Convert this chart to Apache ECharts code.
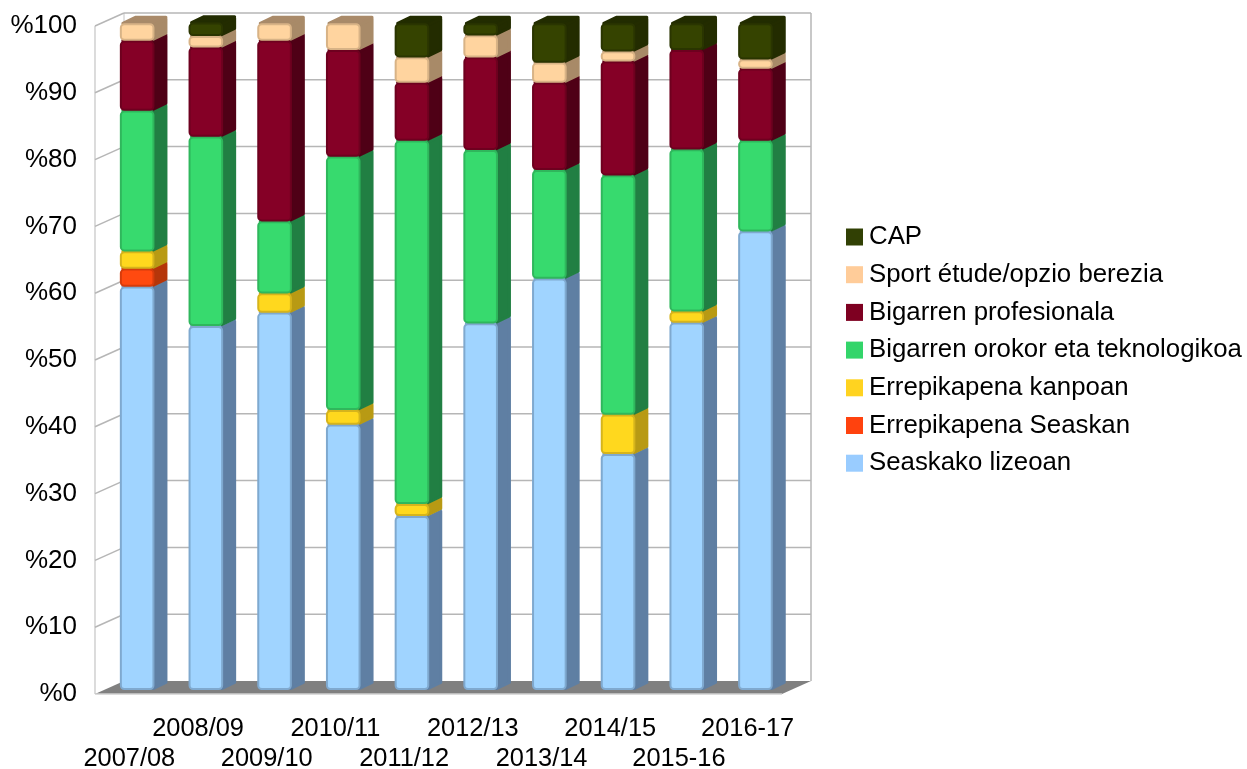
<!DOCTYPE html>
<html><head><meta charset="utf-8">
<style>html,body{margin:0;padding:0;background:#fff}#c{width:1247px;height:769px}</style>
<script src="https://cdn.jsdelivr.net/npm/echarts@6/dist/echarts.min.js"></script>
</head><body><div id="c"></div>
<script>
const categories = ['2007/08','2008/09','2009/10','2010/11','2011/12','2012/13','2013/14','2014/15','2015-16','2016-17'];
const yTicks = [0,10,20,30,40,50,60,70,80,90,100];
const seaskakoLizeoan = [60.5,54.6,56.6,39.8,26.1,55.0,61.7,35.4,55.1,68.8];
const errepikapenaSeaskan = [2.7,0,0,0,0,0,0,0,0,0];
const errepikapenaKanpoan = [2.6,0,2.9,2.2,1.8,0,0,5.9,1.7,0];
const bigarrenOrokor = [21.1,28.4,10.8,38.0,54.5,26.0,16.3,35.9,24.3,13.6];
const bigarrenProfesionala = [10.5,13.4,27.1,16.0,8.7,13.9,13.1,17.1,14.9,10.8];
const sportEtude = [2.6,1.7,2.6,4.0,3.8,3.3,3.0,1.5,0,1.4];
const cap = [0,2.0,0,0,5.1,1.8,5.9,4.2,4.0,5.4];

const names = ['Seaskako lizeoan','Errepikapena Seaskan','Errepikapena kanpoan','Bigarren orokor eta teknologikoa','Bigarren profesionala','Sport étude/opzio berezia','CAP'];
const values = [seaskakoLizeoan,errepikapenaSeaskan,errepikapenaKanpoan,bigarrenOrokor,bigarrenProfesionala,sportEtude,cap];
const legendColors = ['#99ccff','#ff420e','#ffd320','#33d56a','#7e0021','#ffcc99','#314004'];
const frontColors = ['#a0d4ff','#ff4a10','#ffd81e','#37da6e','#850026','#ffd49f','#354300'];
const edgeColors = ['#7fa9cf','#d63c0c','#d6b41c','#2fb75c','#6e001f','#d8b386','#2a3500'];
const sideColors = ['#5f7fa3','#b5360a','#b89a14','#217f43','#4f0016','#a88a68','#232c00'];
const topColors = ['#7ea6cc','#cc3d0b','#c9a816','#2aa555','#600019','#a98a69','#222c00'];

const FONT = '"Liberation Sans"';
const DEPTH_X = 29, DEPTH_Y = 13;
const BAR_SHIFT_X = 7.8, BAR_SHIFT_Y = 4, BAR_W = 32.6, SIDE_X = 12.5, SIDE_Y = 6, BAR_YS = 0.998;

function wallItem(params, api) {
  const cs = params.coordSys;
  const y = api.coord([0, api.value(1)])[1];
  const L = cs.x, R = cs.x + cs.width, T = cs.y, B = cs.y + cs.height;
  const kids = [];
  const grid = '#b6b6b6';
  if (params.dataIndex === 0) {
    kids.push({type:'polygon',shape:{points:[[L,B],[L+DEPTH_X,B-DEPTH_Y],[R+DEPTH_X,B-DEPTH_Y],[R,B]]},style:{fill:'#808080'}});
    kids.push({type:'line',shape:{x1:L,y1:B,x2:R,y2:B},style:{stroke:'#d0d0d0',lineWidth:1.5}});
    kids.push({type:'line',shape:{x1:L,y1:T,x2:L,y2:B},style:{stroke:'#c4c4c4',lineWidth:1.2}});
    kids.push({type:'line',shape:{x1:L+DEPTH_X,y1:T-DEPTH_Y,x2:L+DEPTH_X,y2:B-DEPTH_Y},style:{stroke:'#c4c4c4',lineWidth:1}});
    kids.push({type:'line',shape:{x1:R+DEPTH_X,y1:T-DEPTH_Y,x2:R+DEPTH_X,y2:B-DEPTH_Y},style:{stroke:grid,lineWidth:1.5}});
  } else {
    kids.push({type:'line',shape:{x1:L,y1:y,x2:L+DEPTH_X,y2:y-DEPTH_Y},style:{stroke:grid,lineWidth:1.5}});
    kids.push({type:'line',shape:{x1:L+DEPTH_X,y1:y-DEPTH_Y,x2:R+DEPTH_X,y2:y-DEPTH_Y},style:{stroke:grid,lineWidth:1.5}});
  }
  return {type:'group',children:kids};
}

function barItem(k) {
  return function (params, api) {
    const base = api.coord([api.value(0), 0]);
    const a = api.coord([api.value(0), api.value(1)]);
    const b = api.coord([api.value(0), api.value(2)]);
    const y0 = base[1] - BAR_SHIFT_Y;
    const yBot = y0 + (a[1] - base[1]) * BAR_YS;
    const yTop = y0 + (b[1] - base[1]) * BAR_YS;
    const x1 = base[0] + BAR_SHIFT_X - BAR_W / 2, x2 = x1 + BAR_W;
    const side = [[x2,yTop+1.5],[x2+SIDE_X,yTop-SIDE_Y+1.5],[x2+SIDE_X,yBot-SIDE_Y-1.5],[x2,yBot-1.5]];
    const top = [[x1+2,yTop],[x1+SIDE_X+2,yTop-SIDE_Y],[x2+SIDE_X,yTop-SIDE_Y],[x2,yTop]];
    const gap = 0.9;
    return {type:'group',children:[
      {type:'polygon',shape:{points:top},style:{fill:topColors[k],stroke:topColors[k],lineWidth:3,lineJoin:'round'}},
      {type:'polygon',shape:{points:side},style:{fill:sideColors[k],stroke:sideColors[k],lineWidth:3,lineJoin:'round'}},
      {type:'rect',shape:{x:x1,y:yTop+gap,width:BAR_W,height:Math.max(1,yBot-yTop-gap*2),r:3.5},style:{fill:frontColors[k],stroke:edgeColors[k],lineWidth:2}}
    ]};
  };
}

const series = [{
  type:'custom',name:'walls',silent:true,clip:false,z:1,
  encode:{x:0,y:1},
  data:yTicks.map(t=>[0,t]),
  renderItem:wallItem
}];
names.forEach((name,k)=>{
  const rows=[];
  values[k].forEach((v,i)=>{
    const start=values.slice(0,k).reduce((s,arr)=>s+arr[i],0);
    if(v>0) rows.push([i,start,start+v]);
  });
  series.push({type:'custom',name,silent:true,clip:false,z:2+k,
    itemStyle:{color:legendColors[k]},
    encode:{x:0,y:[1,2]},data:rows,renderItem:barItem(k)});
});

const chart = echarts.init(document.getElementById('c'),null,{renderer:'canvas'});
chart.setOption({
  animation:false,
  backgroundColor:'#fff',
  textStyle:{fontFamily:FONT},
  grid:{left:95,top:26,width:687,height:668,containLabel:false,outerBoundsMode:'none'},
  xAxis:{type:'category',data:categories,
    axisLine:{show:false},axisTick:{show:false},splitLine:{show:false},
    axisLabel:{interval:0,rotate:0,hideOverlap:false,margin:20,color:'#000',fontFamily:FONT,fontSize:25.4,lineHeight:30,
      formatter:(v,i)=> i%2===0 ? '\n'+v : v}},
  yAxis:{type:'value',min:0,max:100,interval:10,
    axisLine:{show:false},axisTick:{show:false},splitLine:{show:false},
    axisLabel:{margin:18,color:'#000',fontFamily:FONT,fontSize:26,formatter:'%{value}'}},
  legend:{orient:'vertical',left:846,top:224,padding:0,itemWidth:17,itemHeight:17,itemGap:11.7,
    icon:'rect',selectedMode:false,
    data:names.slice().reverse(),
    textStyle:{fontFamily:FONT,fontSize:25.8,color:'#000',lineHeight:17,padding:[0,0,0,1]}},
  series
});
</script></body></html>
